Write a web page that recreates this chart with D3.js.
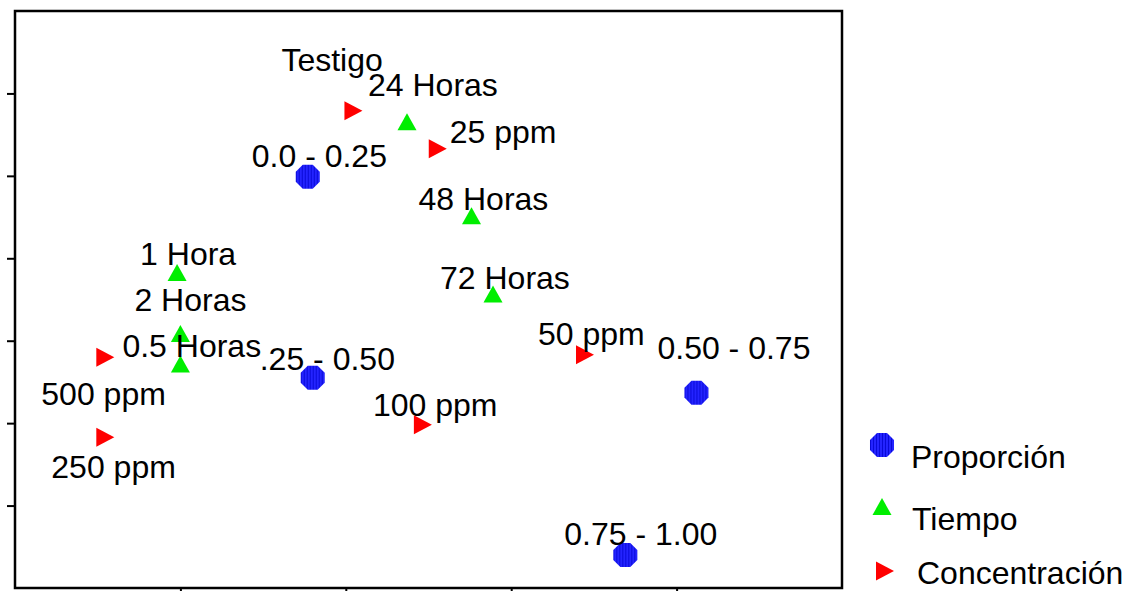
<!DOCTYPE html>
<html>
<head>
<meta charset="utf-8">
<script src="https://cdn.jsdelivr.net/npm/d3@7"></script>
<style>
  html, body { margin: 0; padding: 0; background: #fff; }
  svg { display: block; font-family: "Liberation Sans", Arial, sans-serif; }
</style>
</head>
<body>
<svg id="chart" width="1134" height="591"></svg>
<script>
// Tick positions on each dimension (unlabelled)
const xTicks = [1, 2, 3, 4];
const yTicks = [1, 2, 3, 4, 5, 6];

// Proporción categories
const proporcionNames = ["0.0 - 0.25", ".25 - 0.50", "0.50 - 0.75", "0.75 - 1.00"];
const proporcionX = [1.77, 1.80, 4.12, 3.69];
const proporcionY = [4.99, 2.55, 2.37, 0.40];

// Tiempo categories
const tiempoNames = ["24 Horas", "48 Horas", "72 Horas", "1 Hora", "2 Horas", "0.5 Horas"];
const tiempoX = [2.37, 2.76, 2.89, 0.98, 1.00, 1.00];
const tiempoY = [5.65, 4.51, 3.56, 3.82, 3.08, 2.71];

// Concentración categories
const concentracionNames = ["Testigo", "25 ppm", "50 ppm", "100 ppm", "500 ppm", "250 ppm"];
const concentracionX = [2.04, 2.55, 3.44, 2.46, 0.54, 0.54];
const concentracionY = [5.79, 5.33, 2.83, 1.98, 2.80, 1.83];

const legendNames = ["Proporción", "Tiempo", "Concentración"];

// Label placement relative to each mark, in pixels: [dx, dy] to text start/baseline
const labelOffset = {
  "0.0 - 0.25": [-56, -10], ".25 - 0.50": [-53, -8], "0.50 - 0.75": [-39, -34], "0.75 - 1.00": [-61, -10],
  "24 Horas": [-39, -26], "48 Horas": [-53, -6], "72 Horas": [-53, -6], "1 Hora": [-37, -8],
  "2 Horas": [-46, -23], "0.5 Horas": [-58, -8],
  "Testigo": [-71, -40], "25 ppm": [13, -6], "50 ppm": [-46, -10], "100 ppm": [-49, -9],
  "500 ppm": [-63, 48], "250 ppm": [-53, 41]
};

const svg = d3.select("#chart");
const plot = { left: 15, right: 842, top: 11, bottom: 588 };

const x = d3.scaleLinear().domain([0, 5]).range([plot.left, plot.right]);
const y = d3.scaleLinear().domain([0, 7]).range([plot.bottom, plot.top]);

// Striped fill for the octagon markers
const defs = svg.append("defs");
const pat = defs.append("pattern")
  .attr("id", "blueStripe").attr("patternUnits", "userSpaceOnUse")
  .attr("width", 3).attr("height", 3);
pat.append("rect").attr("width", 3).attr("height", 3).attr("fill", "#2424ff");
pat.append("rect").attr("width", 1).attr("height", 3).attr("fill", "#0a0ad8");

// Axes (ticks only)
svg.append("g")
  .attr("transform", `translate(${plot.left},0)`)
  .call(d3.axisLeft(y).tickValues(yTicks).tickSize(8).tickFormat(""))
  .call(g => g.select(".domain").remove())
  .call(g => g.selectAll("line").attr("stroke", "#000").attr("stroke-width", 2));

svg.append("g")
  .attr("transform", `translate(0,${plot.bottom})`)
  .call(d3.axisBottom(x).tickValues(xTicks).tickSize(8).tickFormat(""))
  .call(g => g.select(".domain").remove())
  .call(g => g.selectAll("line").attr("stroke", "#000").attr("stroke-width", 2));

// Frame
svg.append("rect")
  .attr("x", plot.left).attr("y", plot.top)
  .attr("width", plot.right - plot.left).attr("height", plot.bottom - plot.top)
  .attr("fill", "none").attr("stroke", "#000").attr("stroke-width", 2.5);

// Marker shapes
const octagon = (() => {
  const R = 13, pts = [];
  for (let k = 0; k < 8; k++) {
    const a = Math.PI / 8 + k * Math.PI / 4;
    pts.push([R * Math.cos(a), R * Math.sin(a)]);
  }
  return "M" + pts.map(p => p.join(",")).join("L") + "Z";
})();
const triUp = "M0,-9L9.5,8L-9.5,8Z";
const triRight = "M-8,-9.5L10,0L-8,9.5Z";

const series = [
  { names: proporcionNames, xs: proporcionX, ys: proporcionY, path: octagon, fill: "url(#blueStripe)" },
  { names: tiempoNames, xs: tiempoX, ys: tiempoY, path: triUp, fill: "#00ee00" },
  { names: concentracionNames, xs: concentracionX, ys: concentracionY, path: triRight, fill: "#ff0000" }
];

const fontSize = 32;

series.forEach(s => {
  const rows = s.names.map((n, i) => ({ name: n, vx: s.xs[i], vy: s.ys[i] }));
  const g = svg.append("g");
  g.selectAll("path").data(rows).join("path")
    .attr("d", s.path)
    .attr("fill", s.fill)
    .attr("transform", d => `translate(${x(d.vx)},${y(d.vy)})`);
  g.selectAll("text").data(rows).join("text")
    .attr("x", d => x(d.vx) + labelOffset[d.name][0])
    .attr("y", d => y(d.vy) + labelOffset[d.name][1])
    .attr("font-size", fontSize)
    .attr("fill", "#000")
    .text(d => d.name);
});

// Legend
const legendRows = [
  { sym: series[0], sx: 882, sy: 445, tx: 911, ty: 468 },
  { sym: series[1], sx: 882, sy: 507, tx: 912, ty: 530 },
  { sym: series[2], sx: 884, sy: 571, tx: 917, ty: 584 }
];
const lg = svg.append("g");
legendRows.forEach((r, i) => {
  lg.append("path").attr("d", r.sym.path).attr("fill", r.sym.fill)
    .attr("transform", `translate(${r.sx},${r.sy})`);
  lg.append("text").attr("x", r.tx).attr("y", r.ty)
    .attr("font-size", fontSize).attr("fill", "#000").text(legendNames[i]);
});
</script>
</body>
</html>
